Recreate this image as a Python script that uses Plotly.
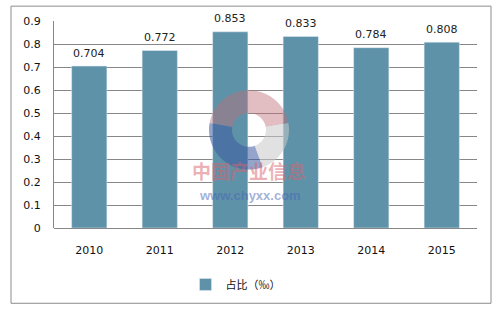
import math
import plotly.graph_objects as go

years = ["2010", "2011", "2012", "2013", "2014", "2015"]
values = [0.704, 0.772, 0.853, 0.833, 0.784, 0.808]
series_name = "占比（‰）"
y_ticks = [0, 0.1, 0.2, 0.3, 0.4, 0.5, 0.6, 0.7, 0.8, 0.9]
y_tick_labels = ["0", "0.1", "0.2", "0.3", "0.4", "0.5", "0.6", "0.7", "0.8", "0.9"]

W, H = 496, 311
L, R, T, B = 54, 19, 21, 81
pw, ph = W - L - R, H - T - B

def px(x):
    return (x - L) / pw

def py(y):
    return (H - B - y) / ph

BAR = "#5E92A8"
GRID = "#878787"
FONT = "DejaVu Sans"

fig = go.Figure()
fig.add_trace(go.Bar(
    x=years, y=values, name=series_name, marker_color=BAR, width=0.5,
    showlegend=True,
))

shapes = []
# outer border
shapes.append(dict(type="rect", xref="paper", yref="paper",
                   x0=px(11), x1=px(491), y0=py(306), y1=py(6),
                   line=dict(color="#8c8c8c", width=1), fillcolor="rgba(0,0,0,0)", layer="below"))

# watermark ring (decoration)
cx, cy, ro, ri = 249, 131, 40, 17
def sector(a0, a1, color):
    pts = []
    n = 30
    for i in range(n + 1):
        a = math.radians(a0 + (a1 - a0) * i / n)
        pts.append((cx + ro * math.cos(a), cy - ro * math.sin(a)))
    for i in range(n + 1):
        a = math.radians(a1 - (a1 - a0) * i / n)
        pts.append((cx + ri * math.cos(a), cy - ri * math.sin(a)))
    path = "M " + " L ".join(f"{px(x):.4f},{py(y):.4f}" for x, y in pts) + " Z"
    return dict(type="path", xref="paper", yref="paper", path=path,
                fillcolor=color, line=dict(width=0), layer="above")
shapes.append(sector(10, 170, "rgba(190,110,120,0.45)"))
shapes.append(sector(170, 290, "rgba(60,90,160,0.55)"))
shapes.append(sector(290, 370, "rgba(200,200,200,0.55)"))

annotations = [
    dict(x=i, y=v, xref="x", yref="y", text=f"{v:.3f}", showarrow=False,
         yanchor="middle", yshift=13,
         font=dict(family=FONT, size=11, color="#222222"))
    for i, v in enumerate(values)
]
annotations += [
    dict(xref="paper", yref="paper", x=px(249), y=py(188), text="<b>中国产业信息</b>",
         showarrow=False, font=dict(family="Noto Sans CJK SC", size=19, color="rgba(215,100,110,0.5)")),
    dict(xref="paper", yref="paper", x=px(250), y=py(207), text="<b>www.chyxx.com</b>",
         showarrow=False, font=dict(family="Liberation Sans", size=13, color="rgba(70,100,180,0.5)")),
]

fig.update_layout(
    width=W, height=H,
    margin=dict(l=L, r=R, t=T, b=B),
    paper_bgcolor="white", plot_bgcolor="white",
    bargap=0.5,
    shapes=shapes, annotations=annotations,
    font=dict(family=FONT, size=11, color="#111111"),
    legend=dict(orientation="h", x=0.5 - 30 / pw, xanchor="center", y=py(287), yanchor="middle",
                font=dict(family="Noto Sans CJK SC", size=11, color="#111111"),
                itemwidth=30),
    xaxis=dict(type="category", showline=False, ticks="", showgrid=False, ticklabelstandoff=14,
               tickfont=dict(family=FONT, size=11, color="#111111"), fixedrange=True),
    yaxis=dict(range=[0, 0.9], tickvals=y_ticks, ticktext=y_tick_labels,
               showgrid=True, gridcolor=GRID, gridwidth=1,
               showline=True, linecolor=GRID, linewidth=1,
               zeroline=True, zerolinecolor=GRID, zerolinewidth=1,
               ticks="", ticklabelstandoff=10,
               tickfont=dict(family=FONT, size=11, color="#111111")),
)

fig.write_html("out.html")
